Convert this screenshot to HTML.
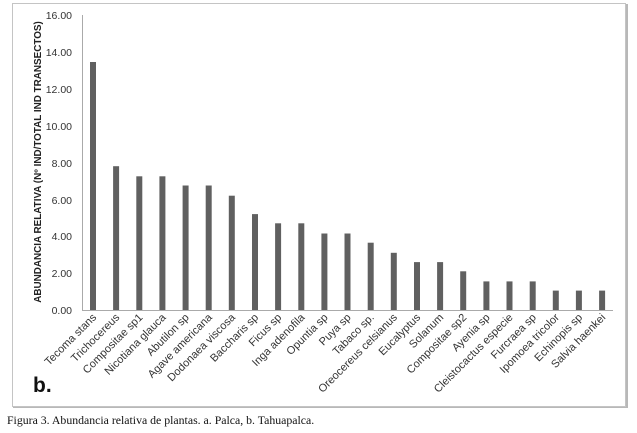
<!DOCTYPE html>
<html><head><meta charset="utf-8"><style>
html,body{margin:0;padding:0;background:#fff;}
svg{display:block;}
</style></head><body>
<svg width="637" height="433" viewBox="0 0 637 433" xmlns="http://www.w3.org/2000/svg">
<rect x="12.5" y="3.5" width="613" height="403" fill="#fff" stroke="#c4c4c4" stroke-width="1"/>
<line x1="627" y1="4" x2="627" y2="408" stroke="#b8b8b8" stroke-width="2"/>
<line x1="13" y1="407.5" x2="627" y2="407.5" stroke="#b8b8b8" stroke-width="1"/>
<g font-family="Liberation Sans, sans-serif" font-size="10.5" fill="#333" text-anchor="end">
<text x="72" y="19">16.00</text>
<text x="72" y="56">14.00</text>
<text x="72" y="93">12.00</text>
<text x="72" y="130">10.00</text>
<text x="72" y="167">8.00</text>
<text x="72" y="204">6.00</text>
<text x="72" y="240">4.00</text>
<text x="72" y="277">2.00</text>
<text x="72" y="314">0.00</text>
</g>
<line x1="82.5" y1="15" x2="82.5" y2="310" stroke="#aaa"/>
<line x1="82" y1="310.5" x2="613" y2="310.5" stroke="#aaa"/>
<text transform="translate(41,162) rotate(-90)" font-family="Liberation Sans, sans-serif" font-size="9.9" font-weight="bold" fill="#222" text-anchor="middle">ABUNDANCIA RELATIVA (Nº IND/TOTAL IND TRANSECTOS)</text>
<g fill="#606060">
<rect x="90" y="62" width="6" height="248"/>
<rect x="113.1" y="166.2" width="6" height="143.8"/>
<rect x="136.3" y="176.3" width="6" height="133.7"/>
<rect x="159.4" y="176.3" width="6" height="133.7"/>
<rect x="182.6" y="185.5" width="6" height="124.5"/>
<rect x="205.7" y="185.5" width="6" height="124.5"/>
<rect x="228.8" y="195.7" width="6" height="114.3"/>
<rect x="252" y="214.1" width="6" height="95.9"/>
<rect x="275.1" y="223.3" width="6" height="86.7"/>
<rect x="298.3" y="223.3" width="6" height="86.7"/>
<rect x="321.4" y="233.5" width="6" height="76.5"/>
<rect x="344.5" y="233.5" width="6" height="76.5"/>
<rect x="367.7" y="242.7" width="6" height="67.3"/>
<rect x="390.8" y="252.8" width="6" height="57.2"/>
<rect x="414" y="262.1" width="6" height="47.9"/>
<rect x="437.1" y="262.1" width="6" height="47.9"/>
<rect x="460.2" y="271.3" width="6" height="38.7"/>
<rect x="483.4" y="281.4" width="6" height="28.6"/>
<rect x="506.5" y="281.4" width="6" height="28.6"/>
<rect x="529.7" y="281.4" width="6" height="28.6"/>
<rect x="552.8" y="290.6" width="6" height="19.4"/>
<rect x="575.9" y="290.6" width="6" height="19.4"/>
<rect x="599.1" y="290.6" width="6" height="19.4"/>
</g>
<g font-family="Liberation Sans, sans-serif" font-size="11" fill="#333" text-anchor="end">
<text transform="translate(97,318) rotate(-45)">Tecoma stans</text>
<text transform="translate(120.1,318) rotate(-45)">Trichocereus</text>
<text transform="translate(143.3,318) rotate(-45)">Compositae sp1</text>
<text transform="translate(166.4,318) rotate(-45)">Nicotiana glauca</text>
<text transform="translate(189.6,318) rotate(-45)">Abutilon sp</text>
<text transform="translate(212.7,318) rotate(-45)">Agave americana</text>
<text transform="translate(235.8,318) rotate(-45)">Dodonaea viscosa</text>
<text transform="translate(259,318) rotate(-45)">Baccharis sp</text>
<text transform="translate(282.1,318) rotate(-45)">Ficus sp</text>
<text transform="translate(305.3,318) rotate(-45)">Inga adenofila</text>
<text transform="translate(328.4,318) rotate(-45)">Opuntia sp</text>
<text transform="translate(351.5,318) rotate(-45)">Puya sp</text>
<text transform="translate(374.7,318) rotate(-45)">Tabaco sp.</text>
<text transform="translate(397.8,318) rotate(-45)">Oreocereus celsianus</text>
<text transform="translate(421,318) rotate(-45)">Eucalyptus</text>
<text transform="translate(444.1,318) rotate(-45)">Solanum</text>
<text transform="translate(467.2,318) rotate(-45)">Compositae sp2</text>
<text transform="translate(490.4,318) rotate(-45)">Ayenia sp</text>
<text transform="translate(513.5,318) rotate(-45)">Cleistocactus especie</text>
<text transform="translate(536.7,318) rotate(-45)">Furcraea sp</text>
<text transform="translate(559.8,318) rotate(-45)">Ipomoea tricolor</text>
<text transform="translate(582.9,318) rotate(-45)">Echinopis sp</text>
<text transform="translate(606.1,318) rotate(-45)">Salvia haenkei</text>
</g>
<text x="33" y="392" font-family="Liberation Sans, sans-serif" font-size="21" font-weight="bold" fill="#111">b.</text>
<text x="7" y="424" font-family="Liberation Serif, serif" font-size="11.8" fill="#111">Figura 3. Abundancia relativa de plantas. a. Palca, b. Tahuapalca.</text>
</svg>
</body></html>
